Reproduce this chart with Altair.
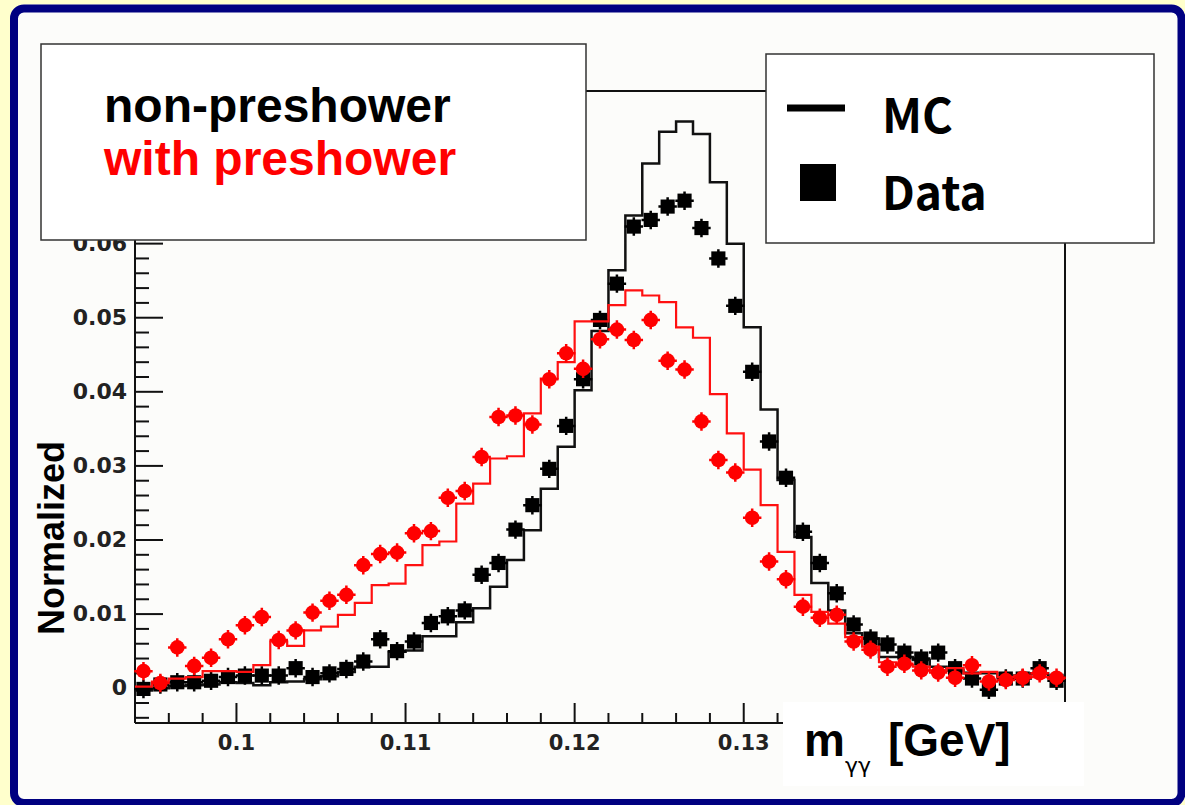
import altair as alt
import pandas as pd

# ---------------- data ----------------
X_MIN, X_MAX = 0.094, 0.149
Y_MIN, Y_MAX = -0.0047, 0.0806
BIN_W = 0.001
N_BINS = 55

mc_black = [-0.0003, 0.0000, 0.0003, 0.0004, 0.0005, 0.0008, 0.0007, 0.0004, 0.0008, 0.0009,
            0.0012, 0.0016, 0.0022, 0.0029, 0.0029, 0.0049, 0.0051, 0.0070, 0.0070, 0.0089,
            0.0108, 0.0137, 0.0173, 0.0213, 0.0269, 0.0326, 0.0402, 0.0482, 0.0564, 0.0638,
            0.0708, 0.0751, 0.0765, 0.0748, 0.0683, 0.0600, 0.0487, 0.0376, 0.0281, 0.0204,
            0.0142, 0.0105, 0.0074, 0.0067, 0.0042, 0.0042, 0.0038, 0.0029, 0.0024, 0.0020,
            0.0020, 0.0015, 0.0017, 0.0020, 0.0015]

data_black = [-0.0001, 0.0005, 0.0008, 0.0008, 0.0010, 0.0015, 0.0017, 0.0017, 0.0017, 0.0027,
              0.0015, 0.0020, 0.0026, 0.0036, 0.0066, 0.0050, 0.0063, 0.0088, 0.0097, 0.0105,
              0.0153, 0.0169, 0.0214, 0.0247, 0.0296, 0.0354, 0.0417, 0.0497, 0.0546, 0.0623,
              0.0632, 0.0650, 0.0658, 0.0621, 0.0580, 0.0516, 0.0427, 0.0333, 0.0284, 0.0211,
              0.0169, 0.0128, 0.0086, 0.0067, 0.0059, 0.0048, 0.0040, 0.0048, 0.0027, 0.0013,
              -0.0002, 0.0013, 0.0013, 0.0027, 0.0010]

mc_red = [0.0002, 0.0009, 0.0013, 0.0015, 0.0023, 0.0023, 0.0022, 0.0031, 0.0063, 0.0057,
          0.0078, 0.0083, 0.0099, 0.0115, 0.0139, 0.0141, 0.0166, 0.0193, 0.0198, 0.0249,
          0.0276, 0.0310, 0.0313, 0.0371, 0.0418, 0.0440, 0.0495, 0.0495, 0.0517, 0.0537,
          0.0530, 0.0521, 0.0487, 0.0473, 0.0397, 0.0344, 0.0295, 0.0247, 0.0184, 0.0126,
          0.0103, 0.0087, 0.0069, 0.0056, 0.0035, 0.0031, 0.0029, 0.0024, 0.0027, 0.0020,
          0.0022, 0.0015, 0.0017, 0.0015, 0.0013]

data_red = [0.0023, 0.0007, 0.0055, 0.0030, 0.0041, 0.0066, 0.0085, 0.0096, 0.0065, 0.0078,
            0.0102, 0.0118, 0.0126, 0.0166, 0.0181, 0.0183, 0.0209, 0.0212, 0.0257, 0.0266,
            0.0312, 0.0366, 0.0368, 0.0356, 0.0417, 0.0452, 0.0431, 0.0471, 0.0484, 0.0470,
            0.0497, 0.0442, 0.0430, 0.0360, 0.0308, 0.0291, 0.0230, 0.0171, 0.0147, 0.0110,
            0.0095, 0.0099, 0.0063, 0.0052, 0.0029, 0.0033, 0.0024, 0.0021, 0.0014, 0.0031,
            0.0009, 0.0011, 0.0014, 0.0020, 0.0014]

x_major = [0.10, 0.11, 0.12, 0.13, 0.14]
x_labels = [0.10, 0.11, 0.12, 0.13]           # 0.14 is hidden under the title box
x_minor = [0.096, 0.098, 0.102, 0.104, 0.106, 0.108, 0.112, 0.114, 0.116, 0.118,
           0.122, 0.124, 0.126, 0.128, 0.132, 0.134, 0.136, 0.138, 0.142, 0.144,
           0.146, 0.148]
y_major = [0.0, 0.01, 0.02, 0.03, 0.04, 0.05, 0.06, 0.07, 0.08]
y_labels = [0.0, 0.01, 0.02, 0.03, 0.04, 0.05, 0.06]   # higher ones hidden by the box
y_minor = [-0.004, -0.002, 0.002, 0.004, 0.006, 0.008, 0.012, 0.014, 0.016, 0.018,
           0.022, 0.024, 0.026, 0.028, 0.032, 0.034, 0.036, 0.038, 0.042, 0.044,
           0.046, 0.048, 0.052, 0.054, 0.056, 0.058, 0.062, 0.064, 0.066, 0.068,
           0.072, 0.074, 0.076, 0.078]

legend_left = ["non-preshower", "with preshower"]
legend_right = ["MC", "Data"]
y_title = "Normalized"

# ---------------- layout ----------------
W, H = 930, 632
OX, OY = 135, 91          # plot-area origin on the page

bin_lefts = [round(X_MIN + i * BIN_W, 4) for i in range(N_BINS)]
bin_centers = [round(b + BIN_W / 2, 5) for b in bin_lefts]

xs = alt.Scale(domain=[X_MIN, X_MAX], nice=False, zero=False)
ys = alt.Scale(domain=[Y_MIN, Y_MAX], nice=False, zero=False)
one = pd.DataFrame({"a": [0]})


def X(f="x"):
    return alt.X(f + ":Q", scale=xs, axis=None)


def Y(f="y"):
    return alt.Y(f + ":Q", scale=ys, axis=None)


def rect(x1, y1, x2, y2, **kw):
    return alt.Chart(one).mark_rect(**kw).encode(
        x=alt.value(x1 - OX), x2=alt.value(x2 - OX),
        y=alt.value(y1 - OY), y2=alt.value(y2 - OY))


def rule(x1, y1, x2, y2, **kw):
    return alt.Chart(one).mark_rule(**kw).encode(
        x=alt.value(x1 - OX), x2=alt.value(x2 - OX),
        y=alt.value(y1 - OY), y2=alt.value(y2 - OY))


def text(t, x, y, size, color="black", font="Liberation Sans", weight="bold",
         align="left", baseline="alphabetic", angle=0):
    return alt.Chart(pd.DataFrame({"t": [t]})).mark_text(
        align=align, baseline=baseline, font=font, fontSize=size,
        fontWeight=weight, color=color, angle=angle).encode(
        x=alt.value(x - OX), y=alt.value(y - OY), text="t:N")


def step(vals, color, sw):
    df = pd.DataFrame({"x": bin_lefts + [X_MAX], "y": vals + [vals[-1]]})
    return alt.Chart(df).mark_line(interpolate="step-after", color=color,
                                   strokeWidth=sw).encode(x=X(), y=Y())


def points(vals, color, shape, size):
    df = pd.DataFrame({"x": bin_centers, "y": vals})
    base = alt.Chart(df).encode(x=X(), y=Y())
    stubs = base.mark_point(shape="M-1,0L1,0M0,-1L0,1", filled=False, color=color,
                            strokeWidth=2.5, size=340, opacity=1)
    marks = base.mark_point(shape=shape, filled=True, color=color, size=size, opacity=1)
    return stubs + marks


# frame and ticks
frame = (rule(135, 91, 135, 723, color="#111", strokeWidth=2)
         + rule(135, 723, 1065, 723, color="#111", strokeWidth=2)
         + rule(135, 91, 1065, 91, color="#111", strokeWidth=2)
         + rule(1065, 91, 1065, 723, color="#111", strokeWidth=2))

yt_major = alt.Chart(pd.DataFrame({"v": y_major})).mark_rule(color="#111", strokeWidth=2).encode(
    y=Y("v"), x=alt.value(0), x2=alt.value(28))
yt_minor = alt.Chart(pd.DataFrame({"v": y_minor})).mark_rule(color="#111", strokeWidth=2).encode(
    y=Y("v"), x=alt.value(0), x2=alt.value(14))
xt_major = alt.Chart(pd.DataFrame({"v": x_major})).mark_rule(color="#111", strokeWidth=2).encode(
    x=X("v"), y=alt.value(H), y2=alt.value(H - 20))
xt_minor = alt.Chart(pd.DataFrame({"v": x_minor})).mark_rule(color="#111", strokeWidth=2).encode(
    x=X("v"), y=alt.value(H), y2=alt.value(H - 10))

ylab = alt.Chart(pd.DataFrame({"v": y_labels})).mark_text(
    align="right", baseline="middle", font="DejaVu Sans", fontWeight="bold",
    fontSize=22, color="#222").encode(
    y=Y("v"), x=alt.value(-8), text=alt.Text("v:Q", format=".2~f"))
xlab = alt.Chart(pd.DataFrame({"v": x_labels})).mark_text(
    align="center", baseline="alphabetic", font="DejaVu Sans", fontWeight="bold",
    fontSize=21, color="#222").encode(
    x=X("v"), y=alt.value(750 - OY), text=alt.Text("v:Q", format=".3~f"))

ytitle = text(y_title, 53, 538, 36, align="center", baseline="middle", angle=270)

# histograms and data
hists = (step(mc_black, "#111", 2.5)
         + points(data_black, "#000", "square", 200)
         + step(mc_red, "#ff1010", 2.2)
         + points(data_red, "#ff0000", "circle", 215))

# legend boxes
left_box = (rect(41, 44, 586, 240, fill="white", stroke="#333", strokeWidth=1.5)
            + text(legend_left[0], 104, 122, 48)
            + text(legend_left[1], 104, 175, 48, color="#ff0000"))

right_box = (rect(766, 54, 1154, 243, fill="white", stroke="#333", strokeWidth=1.5)
             + rule(787, 108, 845, 108, color="black", strokeWidth=7)
             + rect(800, 164, 836, 201, fill="black")
             + text(legend_right[0], 882, 133, 47, font="Noto Sans CJK KR")
             + text(legend_right[1], 882, 210, 46, font="Noto Sans CJK KR"))

# x-axis title box
xtitle = (rect(783, 702, 1084, 786, fill="white")
          + text("m", 804, 756, 46)
          + text("γγ", 845, 773, 22, font="DejaVu Sans", weight="normal")
          + text("[GeV]", 888, 756, 46))

# slide border
border = (rect(0, -5.5, 1195.5, 817, fillOpacity=0, stroke="#FFFFCC", strokeWidth=20,
               cornerRadius=24)
          + rect(14, 8.5, 1181.5, 803, fillOpacity=0, stroke="#000080", strokeWidth=8,
                 cornerRadius=10))

chart = alt.layer(
    frame, yt_major, yt_minor, xt_major, xt_minor, ylab, xlab, ytitle,
    hists, left_box, right_box, xtitle, border
).properties(
    width=W, height=H,
    padding={"left": OX, "top": OY, "right": 1185 - OX - W, "bottom": 805 - OY - H},
    autosize=alt.AutoSizeParams(type="none"),
    background="#FCFCFA",
).configure_view(stroke=None)

chart.save("out.html", embed_options={"renderer": "svg", "actions": False})
